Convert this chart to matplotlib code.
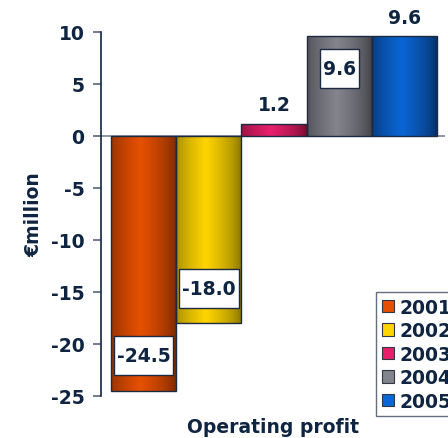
import numpy as np
import matplotlib
matplotlib.use("Agg")
import matplotlib.pyplot as plt
from matplotlib.colors import LinearSegmentedColormap
from matplotlib.patches import Rectangle

years = ["2001", "2002", "2003", "2004", "2005"]
values = [-24.5, -18.0, 1.2, 9.6, 9.6]
label_texts = ["-24.5", "-18.0", "1.2", "9.6", "9.6"]
label_inside = [True, True, False, True, False]
category = "Operating profit"
yticks = [10, 5, 0, -5, -10, -15, -20, -25]

bright = ["#e65000", "#ffd400", "#e8206a", "#84848c", "#0a66d4"]
dark = ["#6e2400", "#7a6a00", "#6a0c2c", "#38383e", "#062858"]

navy = "#0f2440"
plt.rcParams['font.family'] = ['DejaVu Sans']
FS = 13.5

fig = plt.figure(figsize=(4.48, 4.39), dpi=100)
ax = fig.add_axes([101/448, (439-397)/439, (445-101)/448, (397-33)/439])

x = np.arange(len(years))
bars = ax.bar(x, values, width=1.0, edgecolor="#1c2a40", linewidth=1.0, zorder=2)
grad = np.linspace(0, 1, 256)
prof = np.clip(1 - np.abs(grad - 0.45) / 0.55, 0, 1) ** 0.6
for b, c1, c2, v in zip(bars, bright, dark, values):
    cmap = LinearSegmentedColormap.from_list("g", [c2, c1])
    x0 = b.get_x(); w = b.get_width()
    y0, y1 = (v, 0) if v < 0 else (0, v)
    im = ax.imshow(prof[np.newaxis, :], cmap=cmap, vmin=0, vmax=1, aspect="auto",
                   extent=[x0, x0 + w, y0, y1], zorder=2.5, interpolation="bilinear")
    im.set_clip_path(b)
    b.set_facecolor("none")
    b.set_zorder(3)

ax.set_xlim(-0.653, 4.62)
ax.set_ylim(-25, 10)
ax.axhline(0, color="#7a8494", lw=1.2, zorder=1)

texts = []
for xi, v, s, inside in zip(x, values, label_texts, label_inside):
    if inside:
        ty = v + 3.35 if v < 0 else v - 3.1
    else:
        ty = v + 1.8
    t = ax.text(xi, ty, s, ha="center", va="center", fontsize=FS, fontweight="bold",
                color=navy, zorder=6)
    texts.append((t, inside, ty))

for s in ["top", "right", "bottom"]:
    ax.spines[s].set_visible(False)
ax.spines["left"].set_color(navy)
ax.spines["left"].set_linewidth(1.2)
ax.set_yticks(yticks)
ax.set_yticklabels([str(t) for t in yticks], fontsize=FS, fontweight="bold", color=navy)
ax.tick_params(axis="y", length=6, color="#5a6478", width=1.2, pad=6)
ax.set_xticks([])
ax.set_xlabel(category, fontsize=FS, fontweight="bold", color=navy, labelpad=15)
ax.set_ylabel("€million", fontsize=FS, fontweight="bold", color=navy, labelpad=5)

handles = [Rectangle((0, 0), 1, 1, fc=c, ec="#303848", lw=0.8) for c in bright]
leg = fig.legend(handles, years, loc="upper left", bbox_to_anchor=(376/448, 1 - 293/439),
                 frameon=True, prop={"weight": "bold", "size": FS},
                 handlelength=0.64, handleheight=0.64, handletextpad=0.32,
                 labelspacing=0.24, borderpad=0.3, borderaxespad=0, fancybox=False)
leg.get_frame().set_edgecolor("#404a5c")
leg.get_frame().set_linewidth(1.0)
for t in leg.get_texts():
    t.set_color(navy)

fig.canvas.draw()
inv = ax.transData.inverted()
for t, inside, ty in texts:
    if not inside:
        continue
    bb = t.get_window_extent()
    cy = ax.transData.transform((0, ty))[1]
    (dx0, dy0) = inv.transform((bb.x0 - 3, cy - 19.5))
    (dx1, dy1) = inv.transform((bb.x1 + 3, cy + 19.5))
    ax.add_patch(Rectangle((dx0, dy0), dx1 - dx0, dy1 - dy0, fc="white",
                           ec="#1c2a40", lw=1.0, zorder=5))
ax.set_xlim(-0.653, 4.62)
ax.set_ylim(-25, 10)

fig.savefig("out.png", dpi=100)
